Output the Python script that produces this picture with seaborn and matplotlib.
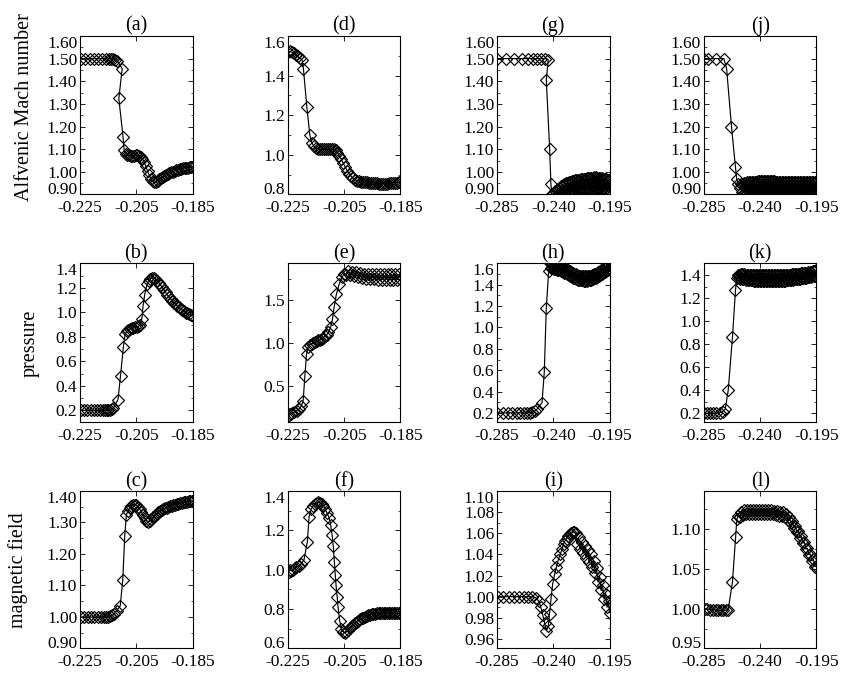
import numpy as np
import pandas as pd
import matplotlib
matplotlib.use("Agg")
import matplotlib.pyplot as plt
import seaborn as sns
from matplotlib.ticker import AutoMinorLocator

# x axes: the two left columns share one range, the two right columns another
x_ticks_near = [-0.225, -0.205, -0.185]
x_ticks_far = [-0.285, -0.240, -0.195]

# ---- Alfvenic Mach number ----
a_pts = [
    (-0.2248, 1.500), (-0.2232, 1.500), (-0.2216, 1.500), (-0.2200, 1.500), (-0.2185, 1.500),
    (-0.2171, 1.500), (-0.2159, 1.500), (-0.2148, 1.500), (-0.2139, 1.500), (-0.2131, 1.500),
    (-0.2124, 1.495), (-0.2118, 1.490),
    (-0.2100, 1.456), (-0.2112, 1.324), (-0.2097, 1.154), (-0.2093, 1.096),
    (-0.2088, 1.080), (-0.2082, 1.076), (-0.2076, 1.073), (-0.2070, 1.071), (-0.2064, 1.071),
    (-0.2058, 1.072), (-0.2052, 1.073), (-0.2046, 1.073), (-0.2040, 1.071), (-0.2034, 1.066),
    (-0.2028, 1.057), (-0.2022, 1.043), (-0.2016, 1.024), (-0.2010, 1.004), (-0.2004, 0.985),
    (-0.1998, 0.969), (-0.1992, 0.958), (-0.1986, 0.953), (-0.1980, 0.955), (-0.1974, 0.961),
    (-0.1968, 0.967), (-0.1962, 0.973), (-0.1956, 0.978), (-0.1950, 0.983), (-0.1944, 0.987),
    (-0.1938, 0.991), (-0.1932, 0.995), (-0.1926, 0.998), (-0.1920, 1.001), (-0.1914, 1.004),
    (-0.1908, 1.007), (-0.1902, 1.009), (-0.1896, 1.011), (-0.1890, 1.013), (-0.1884, 1.015),
    (-0.1878, 1.017), (-0.1872, 1.018), (-0.1866, 1.019), (-0.1860, 1.020), (-0.1854, 1.021),
    (-0.1850, 1.022),
]
d_pts = [
    (-0.2249, 1.520), (-0.2242, 1.522), (-0.2236, 1.518), (-0.2230, 1.514), (-0.2223, 1.505),
    (-0.2216, 1.497), (-0.2208, 1.488), (-0.2200, 1.480),
    (-0.2195, 1.434), (-0.2183, 1.242), (-0.2172, 1.098), (-0.2165, 1.060),
    (-0.2158, 1.045), (-0.2151, 1.036), (-0.2144, 1.031), (-0.2137, 1.028), (-0.2130, 1.027),
    (-0.2123, 1.027), (-0.2116, 1.028), (-0.2109, 1.029), (-0.2102, 1.030), (-0.2095, 1.030),
    (-0.2088, 1.028), (-0.2081, 1.022), (-0.2074, 1.011), (-0.2067, 0.996), (-0.2060, 0.977),
    (-0.2053, 0.957), (-0.2046, 0.937), (-0.2039, 0.919), (-0.2032, 0.904), (-0.2025, 0.891),
    (-0.2018, 0.881), (-0.2011, 0.874), (-0.2004, 0.869), (-0.1997, 0.866), (-0.1990, 0.864),
    (-0.1983, 0.863), (-0.1976, 0.862), (-0.1969, 0.861), (-0.1962, 0.860), (-0.1955, 0.859),
    (-0.1948, 0.858), (-0.1941, 0.857), (-0.1934, 0.856), (-0.1927, 0.855), (-0.1920, 0.854),
    (-0.1913, 0.854), (-0.1906, 0.854), (-0.1899, 0.855), (-0.1892, 0.856), (-0.1885, 0.857),
    (-0.1878, 0.858), (-0.1871, 0.859), (-0.1864, 0.860), (-0.1857, 0.861), (-0.1850, 0.862),
]
g_pts = [
    (-0.2848, 1.500), (-0.2775, 1.500), (-0.2712, 1.500), (-0.2650, 1.500), (-0.2605, 1.500),
    (-0.2562, 1.500), (-0.2530, 1.500), (-0.2498, 1.500), (-0.2464, 1.500), (-0.2440, 1.495),
    (-0.2456, 1.407), (-0.2429, 1.100), (-0.2419, 0.945),
    (-0.2410, 0.900), (-0.2404, 0.858), (-0.2398, 0.905), (-0.2392, 0.865), (-0.2386, 0.914),
    (-0.2380, 0.872), (-0.2374, 0.920), (-0.2368, 0.877), (-0.2362, 0.925), (-0.2356, 0.883),
    (-0.2350, 0.930), (-0.2344, 0.887), (-0.2338, 0.936), (-0.2332, 0.892), (-0.2326, 0.941),
    (-0.2320, 0.895), (-0.2314, 0.946), (-0.2308, 0.898), (-0.2302, 0.949), (-0.2296, 0.901),
    (-0.2290, 0.952), (-0.2284, 0.903), (-0.2278, 0.954), (-0.2272, 0.906), (-0.2266, 0.957),
    (-0.2260, 0.908), (-0.2254, 0.958), (-0.2248, 0.910), (-0.2242, 0.960), (-0.2236, 0.912),
    (-0.2230, 0.962), (-0.2224, 0.913), (-0.2218, 0.963), (-0.2212, 0.914), (-0.2206, 0.964),
    (-0.2200, 0.915), (-0.2194, 0.966), (-0.2188, 0.916), (-0.2182, 0.967), (-0.2176, 0.918),
    (-0.2170, 0.968), (-0.2164, 0.919), (-0.2158, 0.969), (-0.2152, 0.920), (-0.2146, 0.970),
    (-0.2140, 0.921), (-0.2134, 0.971), (-0.2128, 0.922), (-0.2122, 0.972), (-0.2116, 0.923),
    (-0.2110, 0.973), (-0.2104, 0.924), (-0.2098, 0.974), (-0.2092, 0.924), (-0.2086, 0.974),
    (-0.2080, 0.925), (-0.2074, 0.975), (-0.2068, 0.925), (-0.2062, 0.975), (-0.2056, 0.924),
    (-0.2050, 0.974), (-0.2044, 0.923), (-0.2038, 0.973), (-0.2032, 0.922), (-0.2026, 0.972),
    (-0.2020, 0.921), (-0.2014, 0.971), (-0.2008, 0.920), (-0.2002, 0.969), (-0.1996, 0.919),
    (-0.1990, 0.968), (-0.1984, 0.918), (-0.1978, 0.967), (-0.1972, 0.917), (-0.1966, 0.966),
    (-0.1960, 0.915), (-0.1954, 0.964), (-0.1950, 0.914),
]
j_pts = [
    (-0.2850, 1.500), (-0.2815, 1.500), (-0.2754, 1.500), (-0.2691, 1.500), (-0.2669, 1.456),
    (-0.2630, 1.200), (-0.2598, 1.020), (-0.2588, 0.967), (-0.2575, 0.945), (-0.2563, 0.930),
    (-0.2550, 0.945), (-0.2544, 0.912), (-0.2538, 0.948), (-0.2532, 0.908), (-0.2526, 0.950),
    (-0.2520, 0.906), (-0.2514, 0.952), (-0.2508, 0.905), (-0.2502, 0.954), (-0.2496, 0.905),
    (-0.2490, 0.955), (-0.2484, 0.905), (-0.2478, 0.956), (-0.2472, 0.905), (-0.2466, 0.956),
    (-0.2460, 0.905), (-0.2454, 0.957), (-0.2448, 0.905), (-0.2442, 0.957), (-0.2436, 0.905),
    (-0.2430, 0.957), (-0.2424, 0.906), (-0.2418, 0.958), (-0.2412, 0.906), (-0.2406, 0.958),
    (-0.2400, 0.906), (-0.2394, 0.958), (-0.2388, 0.906), (-0.2382, 0.958), (-0.2376, 0.906),
    (-0.2370, 0.958), (-0.2364, 0.906), (-0.2358, 0.958), (-0.2352, 0.906), (-0.2346, 0.958),
    (-0.2340, 0.906), (-0.2334, 0.958), (-0.2328, 0.906), (-0.2322, 0.958), (-0.2316, 0.906),
    (-0.2310, 0.958), (-0.2304, 0.906), (-0.2298, 0.958), (-0.2292, 0.906), (-0.2286, 0.958),
    (-0.2280, 0.906), (-0.2274, 0.957), (-0.2268, 0.906), (-0.2262, 0.957), (-0.2256, 0.905),
    (-0.2250, 0.957), (-0.2244, 0.905), (-0.2238, 0.957), (-0.2232, 0.905), (-0.2226, 0.957),
    (-0.2220, 0.905), (-0.2214, 0.957), (-0.2208, 0.905), (-0.2202, 0.956), (-0.2196, 0.905),
    (-0.2190, 0.956), (-0.2184, 0.905), (-0.2178, 0.956), (-0.2172, 0.905), (-0.2166, 0.956),
    (-0.2160, 0.905), (-0.2154, 0.956), (-0.2148, 0.905), (-0.2142, 0.956), (-0.2136, 0.905),
    (-0.2130, 0.956), (-0.2124, 0.905), (-0.2118, 0.955), (-0.2112, 0.905), (-0.2106, 0.955),
    (-0.2100, 0.905), (-0.2094, 0.955), (-0.2088, 0.905), (-0.2082, 0.955), (-0.2076, 0.905),
    (-0.2070, 0.955), (-0.2064, 0.905), (-0.2058, 0.955), (-0.2052, 0.905), (-0.2046, 0.955),
    (-0.2040, 0.905), (-0.2034, 0.955), (-0.2028, 0.905), (-0.2022, 0.955), (-0.2016, 0.905),
    (-0.2010, 0.955), (-0.2004, 0.905), (-0.1998, 0.955), (-0.1992, 0.905), (-0.1986, 0.955),
    (-0.1980, 0.905), (-0.1974, 0.955), (-0.1968, 0.905), (-0.1962, 0.955), (-0.1956, 0.905),
    (-0.1950, 0.955),
]

# ---- pressure ----
b_pts = [
    (-0.2248, 0.200), (-0.2236, 0.200), (-0.2224, 0.200), (-0.2212, 0.200), (-0.2200, 0.200),
    (-0.2189, 0.200), (-0.2179, 0.200), (-0.2170, 0.200), (-0.2162, 0.200), (-0.2155, 0.200),
    (-0.2149, 0.200), (-0.2143, 0.205), (-0.2137, 0.210), (-0.2131, 0.220),
    (-0.2115, 0.287), (-0.2106, 0.480), (-0.2096, 0.715), (-0.2090, 0.820),
    (-0.2084, 0.845), (-0.2078, 0.858), (-0.2072, 0.865), (-0.2066, 0.870), (-0.2060, 0.874),
    (-0.2054, 0.878), (-0.2048, 0.882), (-0.2042, 0.888), (-0.2036, 0.897),
    (-0.2030, 0.950), (-0.2026, 1.050), (-0.2020, 1.145), (-0.2012, 1.230),
    (-0.2006, 1.255), (-0.2000, 1.272), (-0.1994, 1.282), (-0.1988, 1.283), (-0.1982, 1.276),
    (-0.1976, 1.258), (-0.1970, 1.243), (-0.1964, 1.225), (-0.1958, 1.205), (-0.1952, 1.185),
    (-0.1946, 1.165), (-0.1940, 1.145), (-0.1934, 1.127), (-0.1928, 1.110), (-0.1922, 1.094),
    (-0.1916, 1.079), (-0.1910, 1.065), (-0.1904, 1.052), (-0.1898, 1.040), (-0.1892, 1.029),
    (-0.1886, 1.018), (-0.1880, 1.008), (-0.1874, 0.999), (-0.1868, 0.991), (-0.1862, 0.984),
    (-0.1856, 0.978), (-0.1850, 0.973),
]
e_pts = [
    (-0.2249, 0.150), (-0.2245, 0.165), (-0.2240, 0.180), (-0.2234, 0.190), (-0.2227, 0.200),
    (-0.2219, 0.215), (-0.2211, 0.235), (-0.2203, 0.270),
    (-0.2196, 0.330), (-0.2190, 0.620), (-0.2184, 0.875), (-0.2178, 0.960),
    (-0.2172, 0.985), (-0.2166, 0.995), (-0.2160, 1.005), (-0.2154, 1.015), (-0.2148, 1.025),
    (-0.2142, 1.035), (-0.2136, 1.045), (-0.2130, 1.055), (-0.2124, 1.068), (-0.2118, 1.082),
    (-0.2112, 1.100), (-0.2106, 1.130),
    (-0.2098, 1.190), (-0.2092, 1.280), (-0.2086, 1.420), (-0.2078, 1.570), (-0.2068, 1.690),
    (-0.2058, 1.770),
    (-0.2050, 1.810), (-0.2043, 1.800), (-0.2036, 1.845), (-0.2029, 1.790), (-0.2022, 1.835),
    (-0.2015, 1.780), (-0.2008, 1.825), (-0.2001, 1.770), (-0.1994, 1.818), (-0.1987, 1.760),
    (-0.1980, 1.812), (-0.1973, 1.752), (-0.1966, 1.808), (-0.1959, 1.747), (-0.1952, 1.805),
    (-0.1945, 1.744), (-0.1938, 1.803), (-0.1931, 1.742), (-0.1924, 1.802), (-0.1917, 1.741),
    (-0.1910, 1.802), (-0.1903, 1.741), (-0.1896, 1.802), (-0.1889, 1.741), (-0.1882, 1.803),
    (-0.1875, 1.742), (-0.1868, 1.804), (-0.1861, 1.743), (-0.1854, 1.805), (-0.1850, 1.744),
]
h_pts = [
    (-0.2848, 0.200), (-0.2805, 0.200), (-0.2765, 0.200), (-0.2728, 0.200), (-0.2694, 0.200),
    (-0.2663, 0.200), (-0.2635, 0.200), (-0.2610, 0.200), (-0.2588, 0.203), (-0.2568, 0.208),
    (-0.2550, 0.218), (-0.2530, 0.235),
    (-0.2490, 0.296), (-0.2472, 0.583), (-0.2456, 1.180), (-0.2437, 1.525),
    (-0.2425, 1.600), (-0.2419, 1.558), (-0.2413, 1.596), (-0.2407, 1.554), (-0.2401, 1.592),
    (-0.2395, 1.550), (-0.2389, 1.588), (-0.2383, 1.546), (-0.2377, 1.585), (-0.2371, 1.543),
    (-0.2365, 1.581), (-0.2359, 1.539), (-0.2353, 1.576), (-0.2347, 1.534), (-0.2341, 1.571),
    (-0.2335, 1.528), (-0.2329, 1.565), (-0.2323, 1.522), (-0.2317, 1.559), (-0.2311, 1.515),
    (-0.2305, 1.552), (-0.2299, 1.508), (-0.2293, 1.545), (-0.2287, 1.501), (-0.2281, 1.537),
    (-0.2275, 1.493), (-0.2269, 1.529), (-0.2263, 1.485), (-0.2257, 1.520), (-0.2251, 1.476),
    (-0.2245, 1.512), (-0.2239, 1.468), (-0.2233, 1.505), (-0.2227, 1.461), (-0.2221, 1.498),
    (-0.2215, 1.455), (-0.2209, 1.492), (-0.2203, 1.449), (-0.2197, 1.487), (-0.2191, 1.446),
    (-0.2185, 1.484), (-0.2179, 1.443), (-0.2173, 1.482), (-0.2167, 1.441), (-0.2161, 1.480),
    (-0.2155, 1.439), (-0.2149, 1.479), (-0.2143, 1.439), (-0.2137, 1.480), (-0.2131, 1.440),
    (-0.2125, 1.481), (-0.2119, 1.442), (-0.2113, 1.484), (-0.2107, 1.445), (-0.2101, 1.487),
    (-0.2095, 1.449), (-0.2089, 1.491), (-0.2083, 1.454), (-0.2077, 1.497), (-0.2071, 1.460),
    (-0.2065, 1.503), (-0.2059, 1.467), (-0.2053, 1.510), (-0.2047, 1.474), (-0.2041, 1.517),
    (-0.2035, 1.481), (-0.2029, 1.525), (-0.2023, 1.489), (-0.2017, 1.534), (-0.2011, 1.498),
    (-0.2005, 1.543), (-0.1999, 1.508), (-0.1993, 1.553), (-0.1987, 1.518), (-0.1981, 1.564),
    (-0.1975, 1.529), (-0.1969, 1.575), (-0.1963, 1.541), (-0.1957, 1.587), (-0.1951, 1.553),
]
k_pts = [
    (-0.2848, 0.200), (-0.2828, 0.200), (-0.2800, 0.200), (-0.2776, 0.200), (-0.2750, 0.200),
    (-0.2725, 0.205), (-0.2700, 0.215), (-0.2680, 0.235),
    (-0.2656, 0.400), (-0.2622, 0.863), (-0.2598, 1.270), (-0.2588, 1.370),
    (-0.2578, 1.400), (-0.2572, 1.374), (-0.2566, 1.403), (-0.2560, 1.369), (-0.2554, 1.405),
    (-0.2548, 1.366), (-0.2542, 1.405), (-0.2536, 1.364), (-0.2530, 1.405), (-0.2524, 1.362),
    (-0.2518, 1.404), (-0.2512, 1.360), (-0.2506, 1.404), (-0.2500, 1.358), (-0.2494, 1.403),
    (-0.2488, 1.356), (-0.2482, 1.403), (-0.2476, 1.355), (-0.2470, 1.402), (-0.2464, 1.353),
    (-0.2458, 1.402), (-0.2452, 1.352), (-0.2446, 1.401), (-0.2440, 1.350), (-0.2434, 1.401),
    (-0.2428, 1.349), (-0.2422, 1.400), (-0.2416, 1.348), (-0.2410, 1.400), (-0.2404, 1.348),
    (-0.2398, 1.400), (-0.2392, 1.347), (-0.2386, 1.400), (-0.2380, 1.347), (-0.2374, 1.400),
    (-0.2368, 1.347), (-0.2362, 1.400), (-0.2356, 1.346), (-0.2350, 1.400), (-0.2344, 1.346),
    (-0.2338, 1.400), (-0.2332, 1.346), (-0.2326, 1.400), (-0.2320, 1.346), (-0.2314, 1.400),
    (-0.2308, 1.346), (-0.2302, 1.400), (-0.2296, 1.346), (-0.2290, 1.400), (-0.2284, 1.347),
    (-0.2278, 1.400), (-0.2272, 1.347), (-0.2266, 1.400), (-0.2260, 1.348), (-0.2254, 1.400),
    (-0.2248, 1.348), (-0.2242, 1.401), (-0.2236, 1.349), (-0.2230, 1.401), (-0.2224, 1.350),
    (-0.2218, 1.402), (-0.2212, 1.351), (-0.2206, 1.402), (-0.2200, 1.352), (-0.2194, 1.403),
    (-0.2188, 1.353), (-0.2182, 1.403), (-0.2176, 1.355), (-0.2170, 1.404), (-0.2164, 1.356),
    (-0.2158, 1.404), (-0.2152, 1.358), (-0.2146, 1.405), (-0.2140, 1.359), (-0.2134, 1.406),
    (-0.2128, 1.361), (-0.2122, 1.407), (-0.2116, 1.362), (-0.2110, 1.408), (-0.2104, 1.364),
    (-0.2098, 1.410), (-0.2092, 1.366), (-0.2086, 1.411), (-0.2080, 1.368), (-0.2074, 1.413),
    (-0.2068, 1.370), (-0.2062, 1.415), (-0.2056, 1.372), (-0.2050, 1.417), (-0.2044, 1.374),
    (-0.2038, 1.419), (-0.2032, 1.377), (-0.2026, 1.421), (-0.2020, 1.379), (-0.2014, 1.423),
    (-0.2008, 1.382), (-0.2002, 1.426), (-0.1996, 1.385), (-0.1990, 1.429), (-0.1984, 1.388),
    (-0.1978, 1.432), (-0.1972, 1.391), (-0.1966, 1.436), (-0.1960, 1.395), (-0.1954, 1.440),
]

# ---- magnetic field ----
c_pts = [
    (-0.2247, 1.000), (-0.2235, 1.000), (-0.2223, 1.000), (-0.2211, 1.000), (-0.2199, 1.000),
    (-0.2187, 1.000), (-0.2176, 1.000), (-0.2166, 1.000), (-0.2157, 1.000), (-0.2149, 1.000),
    (-0.2142, 1.002), (-0.2135, 1.005), (-0.2128, 1.010), (-0.2120, 1.020),
    (-0.2107, 1.035), (-0.2098, 1.118), (-0.2091, 1.258), (-0.2085, 1.325),
    (-0.2080, 1.335), (-0.2074, 1.345), (-0.2068, 1.352), (-0.2062, 1.356), (-0.2056, 1.357),
    (-0.2050, 1.355), (-0.2044, 1.350), (-0.2038, 1.343), (-0.2032, 1.334), (-0.2026, 1.324),
    (-0.2020, 1.314), (-0.2014, 1.306), (-0.2008, 1.302), (-0.2002, 1.304), (-0.1996, 1.310),
    (-0.1990, 1.316), (-0.1984, 1.322), (-0.1978, 1.327), (-0.1972, 1.332), (-0.1966, 1.336),
    (-0.1960, 1.339), (-0.1954, 1.342), (-0.1948, 1.345), (-0.1942, 1.347), (-0.1936, 1.349),
    (-0.1930, 1.351), (-0.1924, 1.353), (-0.1918, 1.355), (-0.1912, 1.357), (-0.1906, 1.358),
    (-0.1900, 1.360), (-0.1894, 1.361), (-0.1888, 1.362), (-0.1882, 1.364), (-0.1876, 1.365),
    (-0.1870, 1.366), (-0.1864, 1.367), (-0.1858, 1.368), (-0.1852, 1.369), (-0.1850, 1.369),
]
f_pts = [
    (-0.2248, 0.990), (-0.2243, 1.000), (-0.2238, 0.995), (-0.2232, 1.000), (-0.2226, 1.010),
    (-0.2220, 1.015), (-0.2212, 1.020), (-0.2203, 1.030), (-0.2193, 1.050),
    (-0.2181, 1.143), (-0.2175, 1.270), (-0.2167, 1.310),
    (-0.2160, 1.325), (-0.2154, 1.335), (-0.2148, 1.340), (-0.2142, 1.342), (-0.2136, 1.340),
    (-0.2130, 1.335), (-0.2124, 1.325), (-0.2118, 1.310), (-0.2112, 1.290),
    (-0.2104, 1.265), (-0.2098, 1.225), (-0.2093, 1.175), (-0.2089, 1.120), (-0.2085, 1.040),
    (-0.2082, 0.975), (-0.2079, 0.920), (-0.2075, 0.860), (-0.2072, 0.810), (-0.2066, 0.740),
    (-0.2060, 0.700), (-0.2054, 0.685), (-0.2048, 0.680), (-0.2042, 0.684), (-0.2036, 0.692),
    (-0.2030, 0.702), (-0.2024, 0.712), (-0.2018, 0.721), (-0.2012, 0.729), (-0.2006, 0.736),
    (-0.2000, 0.742), (-0.1994, 0.748), (-0.1988, 0.753), (-0.1982, 0.757), (-0.1976, 0.761),
    (-0.1970, 0.765), (-0.1964, 0.768), (-0.1958, 0.771), (-0.1952, 0.773), (-0.1946, 0.775),
    (-0.1940, 0.777), (-0.1934, 0.778), (-0.1928, 0.779), (-0.1922, 0.780), (-0.1916, 0.781),
    (-0.1910, 0.781), (-0.1904, 0.781), (-0.1898, 0.781), (-0.1892, 0.781), (-0.1886, 0.780),
    (-0.1880, 0.780), (-0.1874, 0.779), (-0.1868, 0.779), (-0.1862, 0.778), (-0.1856, 0.778),
    (-0.1850, 0.778),
]
i_pts = [
    (-0.2845, 1.000), (-0.2800, 1.000), (-0.2755, 1.000), (-0.2712, 1.000), (-0.2672, 1.000),
    (-0.2635, 1.000), (-0.2600, 1.000), (-0.2568, 1.000),
    (-0.2540, 0.999), (-0.2517, 0.996), (-0.2500, 0.990), (-0.2485, 0.983), (-0.2470, 0.975),
    (-0.2455, 0.968), (-0.2440, 0.972), (-0.2430, 0.984), (-0.2418, 0.998), (-0.2405, 1.012),
    (-0.2390, 1.021), (-0.2375, 1.028), (-0.2360, 1.035), (-0.2345, 1.040), (-0.2330, 1.045),
    (-0.2318, 1.050), (-0.2306, 1.053), (-0.2294, 1.055), (-0.2282, 1.057), (-0.2270, 1.059),
    (-0.2258, 1.060), (-0.2246, 1.061), (-0.2234, 1.061), (-0.2222, 1.060), (-0.2210, 1.050),
    (-0.2198, 1.056), (-0.2186, 1.045), (-0.2174, 1.052), (-0.2162, 1.041), (-0.2150, 1.048),
    (-0.2138, 1.037), (-0.2126, 1.044), (-0.2114, 1.033), (-0.2102, 1.040), (-0.2090, 1.028),
    (-0.2078, 1.034), (-0.2066, 1.022), (-0.2054, 1.027), (-0.2042, 1.014), (-0.2030, 1.019),
    (-0.2018, 1.006), (-0.2006, 1.011), (-0.1994, 0.998), (-0.1982, 1.003), (-0.1970, 0.990),
    (-0.1958, 0.996), (-0.1950, 0.985),
]
l_pts = [
    (-0.2845, 1.000), (-0.2829, 1.000), (-0.2800, 0.999), (-0.2776, 0.998), (-0.2755, 0.999),
    (-0.2736, 0.998), (-0.2715, 0.998), (-0.2696, 0.998), (-0.2676, 0.998), (-0.2656, 0.999),
    (-0.2622, 1.034), (-0.2597, 1.090), (-0.2587, 1.1125),
    (-0.2575, 1.117), (-0.2563, 1.115), (-0.2551, 1.122), (-0.2539, 1.118), (-0.2527, 1.124),
    (-0.2515, 1.119), (-0.2503, 1.124), (-0.2491, 1.119), (-0.2479, 1.124), (-0.2467, 1.119),
    (-0.2455, 1.124), (-0.2443, 1.119), (-0.2431, 1.124), (-0.2419, 1.119), (-0.2407, 1.124),
    (-0.2395, 1.119), (-0.2383, 1.124), (-0.2371, 1.119), (-0.2359, 1.124), (-0.2347, 1.119),
    (-0.2335, 1.124), (-0.2323, 1.119), (-0.2311, 1.124), (-0.2299, 1.119), (-0.2287, 1.123),
    (-0.2275, 1.118), (-0.2263, 1.123), (-0.2251, 1.117), (-0.2239, 1.122), (-0.2227, 1.117),
    (-0.2215, 1.121), (-0.2203, 1.115), (-0.2191, 1.119), (-0.2179, 1.112), (-0.2167, 1.115),
    (-0.2155, 1.108), (-0.2143, 1.110), (-0.2131, 1.102), (-0.2119, 1.104), (-0.2107, 1.096),
    (-0.2095, 1.098), (-0.2083, 1.089), (-0.2071, 1.091), (-0.2059, 1.0825), (-0.2047, 1.084),
    (-0.2035, 1.075), (-0.2023, 1.076), (-0.2011, 1.068), (-0.1999, 1.069), (-0.1987, 1.060),
    (-0.1975, 1.062), (-0.1963, 1.053), (-0.1951, 1.054),
]

# y ticks of every panel
yt_a = [0.90, 1.00, 1.10, 1.20, 1.30, 1.40, 1.50, 1.60]
yt_d = [0.8, 1.0, 1.2, 1.4, 1.6]
yt_b = [0.2, 0.4, 0.6, 0.8, 1.0, 1.2, 1.4]
yt_e = [0.5, 1.0, 1.5]
yt_h = [0.2, 0.4, 0.6, 0.8, 1.0, 1.2, 1.4, 1.6]
yt_c = [0.90, 1.00, 1.10, 1.20, 1.30, 1.40]
yt_f = [0.6, 0.8, 1.0, 1.2, 1.4]
yt_i = [0.96, 0.98, 1.00, 1.02, 1.04, 1.06, 1.08, 1.10]
yt_l = [0.95, 1.00, 1.05, 1.10]

row_labels = ['Alfvenic Mach number', 'pressure', 'magnetic field']

# letter, points, row, col, y limits, y ticks, tick format
panels = [
    ('a', a_pts, 0, 0, (0.90, 1.60), yt_a, '%.2f'),
    ('d', d_pts, 0, 1, (0.80, 1.60), yt_d, '%.1f'),
    ('g', g_pts, 0, 2, (0.90, 1.60), yt_a, '%.2f'),
    ('j', j_pts, 0, 3, (0.90, 1.60), yt_a, '%.2f'),
    ('b', b_pts, 1, 0, (0.10, 1.40), yt_b, '%.1f'),
    ('e', e_pts, 1, 1, (0.08, 1.93), yt_e, '%.1f'),
    ('h', h_pts, 1, 2, (0.11, 1.60), yt_h, '%.1f'),
    ('k', k_pts, 1, 3, (0.12, 1.50), yt_b, '%.1f'),
    ('c', c_pts, 2, 0, (0.90, 1.40), yt_c, '%.2f'),
    ('f', f_pts, 2, 1, (0.60, 1.40), yt_f, '%.1f'),
    ('i', i_pts, 2, 2, (0.951, 1.10), yt_i, '%.2f'),
    ('l', l_pts, 2, 3, (0.95, 1.148), yt_l, '%.2f'),
]

sns.set_theme(style="white")
plt.rcParams.update({
    'font.family': ['Liberation Serif', 'DejaVu Serif'],
    'axes.edgecolor': 'black',
    'axes.linewidth': 0.8,
    'axes.labelcolor': 'black',
    'text.color': 'black',
    'xtick.color': 'black', 'ytick.color': 'black',
    'xtick.direction': 'in', 'ytick.direction': 'in',
    'xtick.top': True, 'xtick.bottom': True,
    'ytick.left': True, 'ytick.right': True,
    'xtick.major.size': 3.5, 'ytick.major.size': 3.5,
    'ytick.minor.size': 1.8,
    'xtick.major.width': 0.6, 'ytick.major.width': 0.6, 'ytick.minor.width': 0.5,
    'xtick.labelsize': 12.5, 'ytick.labelsize': 12.5,
    'xtick.major.pad': 4, 'ytick.major.pad': 2,
    'axes.titlesize': 14.5, 'axes.labelsize': 14.5,
})

fig = plt.figure(figsize=(8.44, 6.75), dpi=100)

col_left = [0.0948, 0.3412, 0.5889, 0.8341]
row_bottom = [0.7119, 0.3741, 0.0393]
row_height = [0.2348, 0.2356, 0.2333]
width = 0.1333

for letter, pts, row, col, ylim, yticks, fmt in panels:
    ax = fig.add_axes([col_left[col], row_bottom[row], width, row_height[row]])
    df = pd.DataFrame(pts, columns=['x', 'y'])
    sns.lineplot(data=df, x='x', y='y', ax=ax, sort=False, estimator=None,
                 color='black', linewidth=0.85, marker='D', markersize=6,
                 markerfacecolor='none', markeredgecolor='black', markeredgewidth=0.85)

    xticks = x_ticks_near if col < 2 else x_ticks_far
    ax.set_xlim(xticks[0], xticks[-1])
    ax.set_xticks(xticks)
    ax.set_xticklabels([f'{v:.3f}' for v in xticks])
    ax.set_ylim(*ylim)
    ax.set_yticks(yticks)
    ax.set_yticklabels([fmt % v for v in yticks])
    ax.yaxis.set_minor_locator(AutoMinorLocator(2))
    ax.set_xlabel('')
    ax.set_ylabel('')
    ax.set_title(f'({letter})', pad=3)

    if col == 0:
        ax.set_ylabel(row_labels[row])
        pos = [(-0.41, 0.554), (-0.36, 0.5), (-0.46, 0.5)][row]
        ax.yaxis.set_label_coords(*pos)

    # labels sitting on the frame edge are pulled inside, as in the original
    for tick, v in zip(ax.yaxis.get_major_ticks(), yticks):
        if abs(v - ylim[1]) < 1e-9:
            tick.label1.set_verticalalignment('top')
        elif abs(v - ylim[0]) < 1e-9:
            tick.label1.set_verticalalignment('baseline')

fig.savefig('out.png', dpi=100)
